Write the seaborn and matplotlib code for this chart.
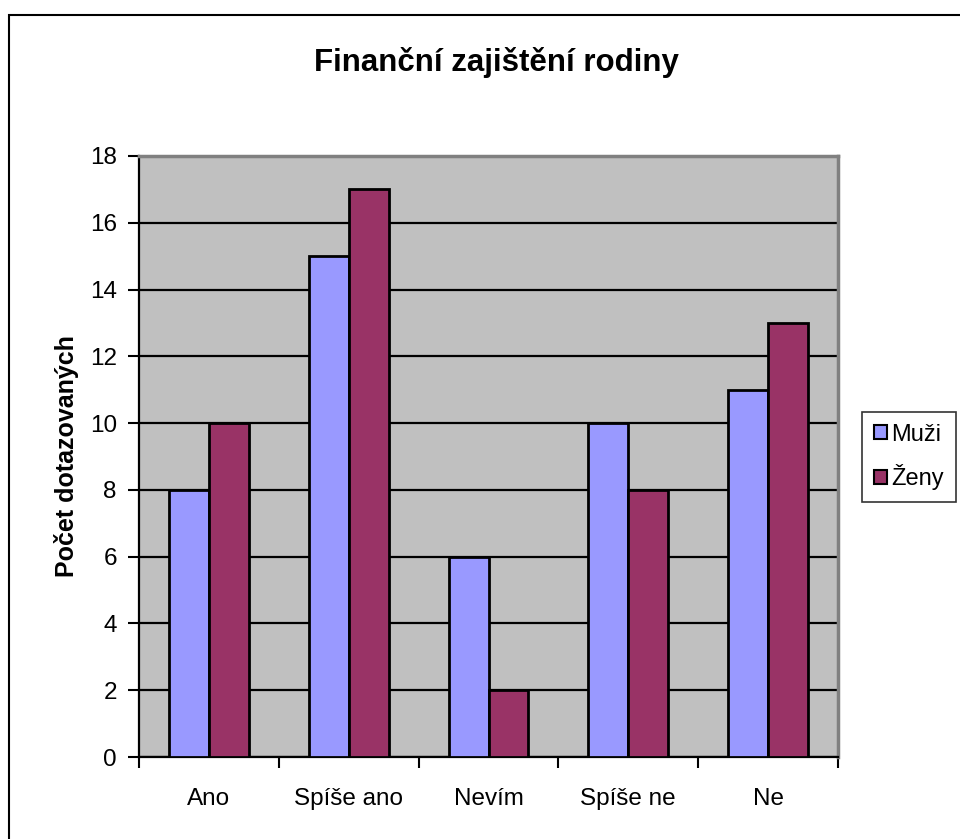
import matplotlib
matplotlib.use("Agg")
import matplotlib.pyplot as plt
import matplotlib.patches as mpatches
import seaborn as sns
import pandas as pd

categories = ["Ano", "Spíše ano", "Nevím", "Spíše ne", "Ne"]
series_names = ["Muži", "Ženy"]
muzi = [8, 15, 6, 10, 11]
zeny = [10, 17, 2, 8, 13]
yticks = [0, 2, 4, 6, 8, 10, 12, 14, 16, 18]
colors = ["#9999FF", "#993366"]

sns.set_style("white")
plt.rcParams["font.family"] = ["Liberation Sans", "DejaVu Sans"]
plt.rcParams["text.color"] = "black"
plt.rcParams["axes.labelcolor"] = "black"
plt.rcParams["xtick.color"] = "black"
plt.rcParams["ytick.color"] = "black"
plt.rcParams["ytick.left"] = True
plt.rcParams["xtick.bottom"] = True

df = pd.DataFrame({
    "kategorie": categories * 2,
    "pocet": muzi + zeny,
    "pohlavi": [series_names[0]] * len(categories) + [series_names[1]] * len(categories),
})

fig = plt.figure(figsize=(9.6, 8.39), dpi=100)
ax = fig.add_axes([139/960, (839-757)/839, 699/960, 601/839])
ax.set_facecolor("#C0C0C0")

sns.barplot(data=df, x="kategorie", y="pocet", hue="pohlavi", order=categories,
            hue_order=series_names, palette=colors, width=80/140, gap=0,
            edgecolor="black", linewidth=2, saturation=1, ax=ax, legend=False,
            zorder=3)

ax.set_xlim(-0.5, len(categories) - 0.5)
ax.set_ylim(0, 18)
ax.set_yticks(yticks)
ax.set_yticklabels([str(v) for v in yticks], fontsize=17.5)
ax.yaxis.grid(True, color="black", linewidth=1.6, zorder=1)
ax.set_axisbelow(True)

ax.set_xticks(range(len(categories)))
ax.set_xticklabels(categories, fontsize=17.5)
ax.tick_params(axis="x", which="major", length=0, pad=22)
ax.set_xticks([i - 0.5 for i in range(len(categories) + 1)], minor=True)
ax.tick_params(axis="x", which="minor", length=8, width=1.5, color="black",
               direction="out", bottom=True)
ax.tick_params(axis="y", length=8, width=1.5, color="black", direction="out",
               left=True, pad=8)
ax.set_xlabel("")
ax.set_ylabel("Počet dotazovaných", fontsize=18, fontweight="bold", labelpad=8)

for side in ["left", "bottom"]:
    ax.spines[side].set_color("black")
    ax.spines[side].set_linewidth(1.6)
for side in ["top", "right"]:
    ax.spines[side].set_color("#808080")
    ax.spines[side].set_linewidth(2.5)

fig.text(496/960, 1 - 62/839, "Finanční zajištění rodiny", fontsize=22.5,
         fontweight="bold", ha="center", va="center", color="black")

handles = [mpatches.Patch(facecolor=c, edgecolor="black", linewidth=1.5, label=n)
           for c, n in zip(colors, series_names)]
leg = fig.legend(handles=handles, loc="center left",
                 bbox_to_anchor=(862/960, 1 - 457/839), fontsize=17,
                 frameon=True, fancybox=False, edgecolor="black",
                 handlelength=0.55, handleheight=0.55, handletextpad=0.2,
                 borderpad=0.5, labelspacing=0.8, borderaxespad=0)
leg.get_frame().set_linewidth(1.2)
for t in leg.get_texts():
    t.set_color("black")

fig.patches.append(mpatches.Rectangle((9/960, -0.1), 1.2, (839-15)/839 + 0.1,
                                      transform=fig.transFigure, fill=False,
                                      edgecolor="black", linewidth=1.5))

fig.savefig("out.png", dpi=100)
